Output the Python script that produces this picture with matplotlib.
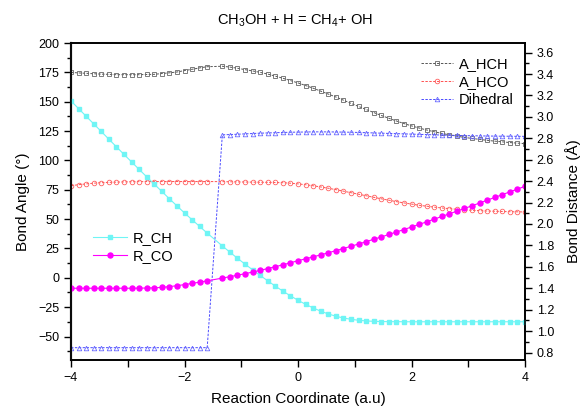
import matplotlib
matplotlib.use("Agg")
import matplotlib.pyplot as plt
from matplotlib.ticker import MultipleLocator

plt.rcParams['font.family'] = ['Liberation Sans', 'DejaVu Sans']
plt.rcParams['mathtext.fontset'] = 'custom'
plt.rcParams['mathtext.rm'] = 'Liberation Sans'
plt.rcParams['mathtext.it'] = 'Liberation Sans'

# Reaction coordinate (one point near the TS is absent in the source data)
x = [-4.000, -3.867, -3.733, -3.600, -3.467, -3.333, -3.200, -3.067, -2.933, -2.800,
     -2.667, -2.533, -2.400, -2.267, -2.133, -2.000, -1.867, -1.733, -1.600,
     -1.333, -1.200, -1.067, -0.933, -0.800, -0.667, -0.533, -0.400, -0.267, -0.133,
     0.000, 0.133, 0.267, 0.400, 0.533, 0.667, 0.800, 0.933, 1.067, 1.200,
     1.333, 1.467, 1.600, 1.733, 1.867, 2.000, 2.133, 2.267, 2.400, 2.533,
     2.667, 2.800, 2.933, 3.067, 3.200, 3.333, 3.467, 3.600, 3.733, 3.867, 4.000]

A_HCH = [175.0, 174.5, 174.2, 173.8, 173.5, 173.3, 173.0, 173.0, 173.0, 173.0,
         173.2, 173.3, 174.0, 174.6, 175.3, 176.5, 177.6, 178.8, 179.8,
         180.2, 179.5, 178.5, 177.3, 176.2, 175.0, 173.5, 171.8, 170.0, 168.0,
         166.0, 163.8, 161.5, 159.0, 156.5, 154.0, 151.3, 148.6, 146.0, 143.4,
         140.8, 138.3, 135.9, 133.6, 131.4, 129.4, 127.6, 125.9, 124.4, 123.0,
         121.8, 120.6, 119.6, 118.7, 117.9, 117.1, 116.4, 115.8, 115.2, 114.7, 114.3]

A_HCO = [78.5, 79.3, 80.0, 80.6, 81.0, 81.3, 81.5, 81.7, 81.8, 81.9,
         82.0, 82.0, 82.0, 82.0, 82.0, 82.0, 82.0, 82.0, 82.0,
         81.9, 81.8, 81.7, 81.6, 81.5, 81.4, 81.3, 81.2, 81.0, 80.6,
         80.0, 79.3, 78.4, 77.4, 76.3, 75.1, 73.8, 72.5, 71.2, 69.9,
         68.6, 67.3, 66.1, 64.9, 63.8, 62.8, 61.8, 61.0, 60.2, 59.5,
         58.9, 58.4, 57.9, 57.5, 57.2, 56.9, 56.7, 56.5, 56.3, 56.2, 56.1]

Dihedral = [-59.5, -59.5, -59.5, -59.5, -59.5, -59.5, -59.5, -59.5, -59.5, -59.5,
            -59.5, -59.5, -59.5, -59.5, -59.5, -59.5, -59.5, -59.5, -59.5,
            121.8, 122.0, 122.3, 122.6, 122.9, 123.2, 123.4, 123.6, 123.8, 124.0,
            124.1, 124.2, 124.3, 124.3, 124.3, 124.2, 124.1, 124.0, 123.8, 123.6,
            123.4, 123.2, 123.0, 122.8, 122.6, 122.4, 122.2, 122.0, 121.8, 121.6,
            121.4, 121.3, 121.1, 121.0, 120.9, 120.8, 120.7, 120.6, 120.6, 120.5, 120.5]

R_CH = [3.149, 3.078, 3.006, 2.935, 2.864, 2.792, 2.721, 2.650, 2.580, 2.510,
        2.441, 2.372, 2.304, 2.236, 2.169, 2.103, 2.040, 1.977, 1.915,
        1.795, 1.737, 1.680, 1.625, 1.572, 1.520, 1.469, 1.420, 1.373, 1.329,
        1.288, 1.250, 1.216, 1.186, 1.160, 1.139, 1.122, 1.110, 1.101, 1.095,
        1.091, 1.089, 1.088, 1.088, 1.087, 1.087, 1.087, 1.087, 1.087, 1.087,
        1.087, 1.087, 1.087, 1.087, 1.087, 1.087, 1.087, 1.087, 1.087, 1.087, 1.087]

R_CO = [1.400, 1.400, 1.400, 1.400, 1.400, 1.400, 1.400, 1.400, 1.400, 1.401,
        1.402, 1.404, 1.408, 1.415, 1.424, 1.434, 1.445, 1.457, 1.469,
        1.495, 1.508, 1.522, 1.536, 1.551, 1.567, 1.584, 1.601, 1.619, 1.638,
        1.657, 1.675, 1.693, 1.712, 1.731, 1.751, 1.771, 1.792, 1.813, 1.835,
        1.857, 1.879, 1.902, 1.925, 1.948, 1.972, 1.996, 2.020, 2.045, 2.070,
        2.095, 2.120, 2.145, 2.170, 2.196, 2.222, 2.248, 2.274, 2.300, 2.326, 2.352]

fig = plt.figure(figsize=(5.8, 4.09), dpi=100)
ax = fig.add_axes([71/580, 1-360/409, (525-71)/580, (360-43)/409])
ax2 = ax.twinx()

dash = (0, (2.5, 1.5))
ms = 3.3
ax.plot(x, A_HCH, linestyle=dash, color='#555555', lw=0.7, marker='s', ms=ms,
        mfc='none', mec='#666666', mew=0.6, label='A_HCH')
ax.plot(x, A_HCO, linestyle=dash, color='#ff5050', lw=0.7, marker='o', ms=ms,
        mfc='none', mec='#ff6060', mew=0.6, label='A_HCO')
ax.plot(x, Dihedral, linestyle=dash, color='#4a4aff', lw=0.7, marker='^', ms=ms,
        mfc='none', mec='#6a6aff', mew=0.6, label='Dihedral')

ax2.plot(x, R_CH, '-', color='#6ff5f5', lw=0.8, marker='s', ms=3.2,
         mfc='#6ff5f5', mec='#6ff5f5', label='R_CH')
ax2.plot(x, R_CO, '-', color='#ff00ff', lw=0.8, marker='o', ms=3.6,
         mfc='#ff00ff', mec='#ff00ff', label='R_CO')

ax.set_xlim(-4, 4)
ax.set_ylim(-70, 200)
ax2.set_ylim(0.73, 3.69)

ax.xaxis.set_major_locator(MultipleLocator(2))
ax.xaxis.set_minor_locator(MultipleLocator(1))
ax.yaxis.set_major_locator(MultipleLocator(25))
ax.yaxis.set_minor_locator(MultipleLocator(12.5))
ax2.yaxis.set_major_locator(MultipleLocator(0.2))
ax2.yaxis.set_minor_locator(MultipleLocator(0.1))
ax2.yaxis.set_major_formatter(matplotlib.ticker.FormatStrFormatter('%.1f'))

for a in (ax, ax2):
    for s in a.spines.values():
        s.set_linewidth(1.2)
ax.spines['left'].set_color('#444444')
ax.spines['left'].set_linewidth(1.6)

ax.tick_params(axis='both', which='major', direction='out', length=5, width=1, labelsize=9, top=False)
ax.tick_params(axis='both', which='minor', direction='out', length=3, width=1, top=False)
ax.tick_params(axis='x', which='minor', length=5)
ax2.tick_params(axis='y', which='major', direction='out', length=5, width=1, labelsize=9)
ax2.tick_params(axis='y', which='minor', direction='out', length=3, width=1)

ax.set_xlabel('Reaction Coordinate (a.u)', fontsize=11, labelpad=6)
ax.set_ylabel('Bond Angle (°)', fontsize=11, labelpad=6)
ax2.set_ylabel('Bond Distance (Å)', fontsize=11, labelpad=8)

fig.text(295/580, 1-21/409, 'CH$_3$OH + H = CH$_4$+ OH', ha='center', va='center', fontsize=10.5)

leg1 = ax.legend(loc='upper left', bbox_to_anchor=(421/580, 1-57/409),
                 bbox_transform=fig.transFigure, frameon=False, fontsize=10.5,
                 handlelength=2.2, handletextpad=0.41, labelspacing=0.28,
                 borderpad=0, borderaxespad=0)
leg2 = ax2.legend(loc='upper left', bbox_to_anchor=(93/580, 1-231/409),
                  bbox_transform=fig.transFigure, frameon=False, fontsize=10.5,
                  handlelength=2.33, handletextpad=0.41, labelspacing=0.28,
                  borderpad=0, borderaxespad=0)

fig.savefig('out.png', dpi=100)
